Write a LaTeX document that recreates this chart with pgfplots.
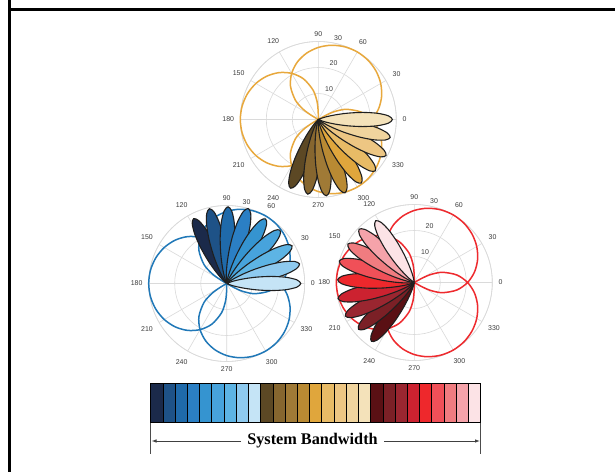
\documentclass[border=0pt]{standalone}
\usepackage{fontspec}
\setmainfont{Liberation Serif}
\newfontfamily\arialf{Liberation Sans}
\usepackage{pgfplots}
\pgfplotsset{compat=1.18}
\usepackage{pgfplotstable}
\usepgfplotslibrary{polar}
\usetikzlibrary{arrows.meta}

\definecolor{gridc}{HTML}{DADADA}
\definecolor{tickc}{HTML}{3C3C3C}
\definecolor{cO}{HTML}{E8A83C}
\definecolor{cB}{HTML}{2078B8}
\definecolor{cR}{HTML}{EE2A2E}
\definecolor{b1}{HTML}{1B2A4A}
\definecolor{b2}{HTML}{1E5287}
\definecolor{b3}{HTML}{1F6AAA}
\definecolor{b4}{HTML}{2B7FC4}
\definecolor{b5}{HTML}{3594D0}
\definecolor{b6}{HTML}{47A3DC}
\definecolor{b7}{HTML}{5DB4E4}
\definecolor{b8}{HTML}{8ECAEF}
\definecolor{b9}{HTML}{C5E4F6}
\definecolor{o1}{HTML}{5C4824}
\definecolor{o2}{HTML}{86662F}
\definecolor{o3}{HTML}{A07A36}
\definecolor{o4}{HTML}{B98A33}
\definecolor{o5}{HTML}{E0A63C}
\definecolor{o6}{HTML}{E8BB66}
\definecolor{o7}{HTML}{EDC683}
\definecolor{o8}{HTML}{F0D49E}
\definecolor{o9}{HTML}{F4E2BA}
\definecolor{r1}{HTML}{5A1014}
\definecolor{r2}{HTML}{7B2026}
\definecolor{r3}{HTML}{9A2630}
\definecolor{r4}{HTML}{CC2230}
\definecolor{r5}{HTML}{EE282C}
\definecolor{r6}{HTML}{F05058}
\definecolor{r7}{HTML}{F07C80}
\definecolor{r8}{HTML}{F5A3AA}
\definecolor{r9}{HTML}{FCE3E6}

\newcommand{\tickfont}{\arialf\fontsize{7}{8}\selectfont}

\pgfplotstableread{
a r
-30 0
-29 3.24
-26 6.94
-20 11.45
-10 16.63
0 20.49
10 23.53
20 25.91
30 27.72
40 28.99
50 29.75
60 30
70 29.75
80 28.99
90 27.72
100 25.91
110 23.53
120 20.49
130 16.63
140 11.45
146 6.94
149 3.24
150 0
}\circA
\pgfplotstableread{
a r
90 0
91 3.24
94 6.94
100 11.45
110 16.63
120 20.49
130 23.53
140 25.91
150 27.72
160 28.99
170 29.75
180 30
190 29.75
200 28.99
210 27.72
220 25.91
230 23.53
240 20.49
250 16.63
260 11.45
266 6.94
269 3.24
270 0
}\circB
\pgfplotstableread{
a r
210 0
211 3.24
214 6.94
220 11.45
230 16.63
240 20.49
250 23.53
260 25.91
270 27.72
280 28.99
290 29.75
300 30
310 29.75
320 28.99
330 27.72
340 25.91
350 23.53
360 20.49
370 16.63
380 11.45
386 6.94
389 3.24
390 0
}\circC

\pgfplotsset{
  mypolar/.style={
    anchor=center,
    scale only axis, width=156bp, height=156bp,
    xmin=0, xmax=360, ymin=0, ymax=30,
    xtick={0,30,...,330},
    xticklabels={0,30,60,90,120,150,180,210,240,270,300,330},
    ytick={10,20,30}, yticklabels={},
    grid=major,
    major grid style={draw=gridc, line width=0.6bp},
    axis line style={draw=gridc, line width=0.6bp},
    major tick length=0pt,
    xticklabel style={font=\tickfont, text=tickc, inner xsep=6bp, inner ysep=4.5bp},
    clip=false,
  },
  circ/.style={smooth, line width=1.5bp, no markers},
  lobe/.style={smooth, tension=0.5, draw=black!88, line width=1.1bp, no markers},
}
\tikzset{rlab/.style={font=\tickfont, text=tickc, anchor=south west, inner sep=2.2bp}}

\begin{document}
\begin{tikzpicture}
\useasboundingbox (0bp,0bp) rectangle (615bp,472bp);
\fill[white] (0bp,0bp) rectangle (615bp,472bp);
\draw[line width=3bp, black] (9.5bp,474bp) -- (9.5bp,462.5bp) -- (617bp,462.5bp);
\draw[line width=3bp, black] (9.5bp,-2bp) -- (9.5bp,463bp);

% ---------------- top (orange) ----------------
\begin{polaraxis}[mypolar, at={(318.3bp,352.5bp)}]
\addplot[circ, cO] table[x=a,y=r] {\circA};
\addplot[circ, cO] table[x=a,y=r] {\circB};
\addplot[circ, cO] table[x=a,y=r] {\circC};
\node[rlab] at (axis cs:80,10) {10};
\node[rlab] at (axis cs:80,20) {20};
\node[rlab] at (axis cs:80,30) {30};
\addplot[lobe, fill=o1] coordinates {(248,0) (227,1.82) (230,3.83) (233,7.12) (236,11.78) (239,17.37) (242,22.88) (245,26.98) (248,28.5) (251,26.98) (254,22.88) (257,17.37) (260,11.78) (263,7.12) (266,3.83) (269,1.82) (248,0)};
\addplot[lobe, fill=o2] coordinates {(262,0) (241,1.86) (244,3.90) (247,7.25) (250,11.98) (253,17.67) (256,23.28) (259,27.45) (262,29) (265,27.45) (268,23.28) (271,17.67) (274,11.98) (277,7.25) (280,3.90) (283,1.86) (262,0)};
\addplot[lobe, fill=o3] coordinates {(276,0) (255,1.89) (258,3.96) (261,7.37) (264,12.19) (267,17.97) (270,23.68) (273,27.92) (276,29.5) (279,27.92) (282,23.68) (285,17.97) (288,12.19) (291,7.37) (294,3.96) (297,1.89) (276,0)};
\addplot[lobe, fill=o4] coordinates {(290,0) (269,1.92) (272,4.03) (275,7.50) (278,12.40) (281,18.28) (284,24.08) (287,28.40) (290,30) (293,28.40) (296,24.08) (299,18.28) (302,12.40) (305,7.50) (308,4.03) (311,1.92) (290,0)};
\addplot[lobe, fill=o5] coordinates {(304,0) (283,1.89) (286,3.96) (289,7.37) (292,12.19) (295,17.97) (298,23.68) (301,27.92) (304,29.5) (307,27.92) (310,23.68) (313,17.97) (316,12.19) (319,7.37) (322,3.96) (325,1.89) (304,0)};
\addplot[lobe, fill=o6] coordinates {(318,0) (297,1.89) (300,3.96) (303,7.37) (306,12.19) (309,17.97) (312,23.68) (315,27.92) (318,29.5) (321,27.92) (324,23.68) (327,17.97) (330,12.19) (333,7.37) (336,3.96) (339,1.89) (318,0)};
\addplot[lobe, fill=o7] coordinates {(332,0) (311,1.89) (314,3.96) (317,7.37) (320,12.19) (323,17.97) (326,23.68) (329,27.92) (332,29.5) (335,27.92) (338,23.68) (341,17.97) (344,12.19) (347,7.37) (350,3.96) (353,1.89) (332,0)};
\addplot[lobe, fill=o8] coordinates {(346,0) (325,1.82) (328,3.83) (331,7.12) (334,11.78) (337,17.37) (340,22.88) (343,26.98) (346,28.5) (349,26.98) (352,22.88) (355,17.37) (358,11.78) (361,7.12) (364,3.83) (367,1.82) (346,0)};
\addplot[lobe, fill=o9] coordinates {(360,0) (339,1.82) (342,3.83) (345,7.12) (348,11.78) (351,17.37) (354,22.88) (357,26.98) (360,28.5) (363,26.98) (366,22.88) (369,17.37) (372,11.78) (375,7.12) (378,3.83) (381,1.82) (360,0)};
\end{polaraxis}

% ---------------- bottom left (blue) ----------------
\begin{polaraxis}[mypolar, at={(226.7bp,188.5bp)}]
\addplot[circ, cB] table[x=a,y=r] {\circA};
\addplot[circ, cB] table[x=a,y=r] {\circB};
\addplot[circ, cB] table[x=a,y=r] {\circC};
\node[rlab] at (axis cs:80,10) {10};
\node[rlab] at (axis cs:80,20) {20};
\node[rlab] at (axis cs:80,30) {30};
\addplot[lobe, fill=b1] coordinates {(117,0) (96,1.79) (99,3.76) (102,7.00) (105,11.57) (108,17.06) (111,22.48) (114,26.50) (117,28) (120,26.50) (123,22.48) (126,17.06) (129,11.57) (132,7.00) (135,3.76) (138,1.79) (117,0)};
\addplot[lobe, fill=b2] coordinates {(103,0) (82,1.89) (85,3.96) (88,7.37) (91,12.19) (94,17.97) (97,23.68) (100,27.92) (103,29.5) (106,27.92) (109,23.68) (112,17.97) (115,12.19) (118,7.37) (121,3.96) (124,1.89) (103,0)};
\addplot[lobe, fill=b3] coordinates {(89,0) (68,1.89) (71,3.96) (74,7.37) (77,12.19) (80,17.97) (83,23.68) (86,27.92) (89,29.5) (92,27.92) (95,23.68) (98,17.97) (101,12.19) (104,7.37) (107,3.96) (110,1.89) (89,0)};
\addplot[lobe, fill=b4] coordinates {(74,0) (53,1.92) (56,4.03) (59,7.50) (62,12.40) (65,18.28) (68,24.08) (71,28.40) (74,30) (77,28.40) (80,24.08) (83,18.28) (86,12.40) (89,7.50) (92,4.03) (95,1.92) (74,0)};
\addplot[lobe, fill=b5] coordinates {(59,0) (38,1.86) (41,3.90) (44,7.25) (47,11.98) (50,17.67) (53,23.28) (56,27.45) (59,29) (62,27.45) (65,23.28) (68,17.67) (71,11.98) (74,7.25) (77,3.90) (80,1.86) (59,0)};
\addplot[lobe, fill=b6] coordinates {(45,0) (24,1.86) (27,3.90) (30,7.25) (33,11.98) (36,17.67) (39,23.28) (42,27.45) (45,29) (48,27.45) (51,23.28) (54,17.67) (57,11.98) (60,7.25) (63,3.90) (66,1.86) (45,0)};
\addplot[lobe, fill=b7] coordinates {(30,0) (9,1.86) (12,3.90) (15,7.25) (18,11.98) (21,17.67) (24,23.28) (27,27.45) (30,29) (33,27.45) (36,23.28) (39,17.67) (42,11.98) (45,7.25) (48,3.90) (51,1.86) (30,0)};
\addplot[lobe, fill=b8] coordinates {(15,0) (-6,1.86) (-3,3.90) (0,7.25) (3,11.98) (6,17.67) (9,23.28) (12,27.45) (15,29) (18,27.45) (21,23.28) (24,17.67) (27,11.98) (30,7.25) (33,3.90) (36,1.86) (15,0)};
\addplot[lobe, fill=b9] coordinates {(0,0) (-21,1.82) (-18,3.83) (-15,7.12) (-12,11.78) (-9,17.37) (-6,22.88) (-3,26.98) (0,28.5) (3,26.98) (6,22.88) (9,17.37) (12,11.78) (15,7.12) (18,3.83) (21,1.82) (0,0)};
\end{polaraxis}

% ---------------- bottom right (red) ----------------
\begin{polaraxis}[mypolar, at={(414.3bp,189.5bp)}]
\addplot[circ, cR] table[x=a,y=r] {\circA};
\addplot[circ, cR] table[x=a,y=r] {\circB};
\addplot[circ, cR] table[x=a,y=r] {\circC};
\node[rlab] at (axis cs:80,10) {10};
\node[rlab] at (axis cs:80,20) {20};
\node[rlab] at (axis cs:80,30) {30};
\addplot[lobe, fill=r1] coordinates {(234,0) (213,1.79) (216,3.76) (219,7.00) (222,11.57) (225,17.06) (228,22.48) (231,26.50) (234,28) (237,26.50) (240,22.48) (243,17.06) (246,11.57) (249,7.00) (252,3.76) (255,1.79) (234,0)};
\addplot[lobe, fill=r2] coordinates {(220,0) (199,1.79) (202,3.76) (205,7.00) (208,11.57) (211,17.06) (214,22.48) (217,26.50) (220,28) (223,26.50) (226,22.48) (229,17.06) (232,11.57) (235,7.00) (238,3.76) (241,1.79) (220,0)};
\addplot[lobe, fill=r3] coordinates {(206,0) (185,1.89) (188,3.96) (191,7.37) (194,12.19) (197,17.97) (200,23.68) (203,27.92) (206,29.5) (209,27.92) (212,23.68) (215,17.97) (218,12.19) (221,7.37) (224,3.96) (227,1.89) (206,0)};
\addplot[lobe, fill=r4] coordinates {(192,0) (171,1.92) (174,4.03) (177,7.50) (180,12.40) (183,18.28) (186,24.08) (189,28.40) (192,30) (195,28.40) (198,24.08) (201,18.28) (204,12.40) (207,7.50) (210,4.03) (213,1.92) (192,0)};
\addplot[lobe, fill=r5] coordinates {(178,0) (157,1.89) (160,3.96) (163,7.37) (166,12.19) (169,17.97) (172,23.68) (175,27.92) (178,29.5) (181,27.92) (184,23.68) (187,17.97) (190,12.19) (193,7.37) (196,3.96) (199,1.89) (178,0)};
\addplot[lobe, fill=r6] coordinates {(164,0) (143,1.92) (146,4.03) (149,7.50) (152,12.40) (155,18.28) (158,24.08) (161,28.40) (164,30) (167,28.40) (170,24.08) (173,18.28) (176,12.40) (179,7.50) (182,4.03) (185,1.92) (164,0)};
\addplot[lobe, fill=r7] coordinates {(150,0) (129,1.89) (132,3.96) (135,7.37) (138,12.19) (141,17.97) (144,23.68) (147,27.92) (150,29.5) (153,27.92) (156,23.68) (159,17.97) (162,12.19) (165,7.37) (168,3.96) (171,1.89) (150,0)};
\addplot[lobe, fill=r8] coordinates {(136,0) (115,1.89) (118,3.96) (121,7.37) (124,12.19) (127,17.97) (130,23.68) (133,27.92) (136,29.5) (139,27.92) (142,23.68) (145,17.97) (148,12.19) (151,7.37) (154,3.96) (157,1.89) (136,0)};
\addplot[lobe, fill=r9] coordinates {(122,0) (101,1.79) (104,3.76) (107,7.00) (110,11.57) (113,17.06) (116,22.48) (119,26.50) (122,28) (125,26.50) (128,22.48) (131,17.06) (134,11.57) (137,7.00) (140,3.76) (143,1.79) (122,0)};
\end{polaraxis}

% ---------------- colour strip ----------------
\begin{axis}[at={(150.7bp,49.3bp)}, anchor=south west, scale only axis,
  width=330bp, height=39.4bp, xmin=0, xmax=27, ymin=0, ymax=1, hide axis, clip=false]
\addplot[fill=b1, draw=black, line width=0.8bp] coordinates {(0,0) (1,0) (1,1) (0,1)} -- cycle;
\addplot[fill=b2, draw=black, line width=0.8bp] coordinates {(1,0) (2,0) (2,1) (1,1)} -- cycle;
\addplot[fill=b3, draw=black, line width=0.8bp] coordinates {(2,0) (3,0) (3,1) (2,1)} -- cycle;
\addplot[fill=b4, draw=black, line width=0.8bp] coordinates {(3,0) (4,0) (4,1) (3,1)} -- cycle;
\addplot[fill=b5, draw=black, line width=0.8bp] coordinates {(4,0) (5,0) (5,1) (4,1)} -- cycle;
\addplot[fill=b6, draw=black, line width=0.8bp] coordinates {(5,0) (6,0) (6,1) (5,1)} -- cycle;
\addplot[fill=b7, draw=black, line width=0.8bp] coordinates {(6,0) (7,0) (7,1) (6,1)} -- cycle;
\addplot[fill=b8, draw=black, line width=0.8bp] coordinates {(7,0) (8,0) (8,1) (7,1)} -- cycle;
\addplot[fill=b9, draw=black, line width=0.8bp] coordinates {(8,0) (9,0) (9,1) (8,1)} -- cycle;
\addplot[fill=o1, draw=black, line width=0.8bp] coordinates {(9,0) (10,0) (10,1) (9,1)} -- cycle;
\addplot[fill=o2, draw=black, line width=0.8bp] coordinates {(10,0) (11,0) (11,1) (10,1)} -- cycle;
\addplot[fill=o3, draw=black, line width=0.8bp] coordinates {(11,0) (12,0) (12,1) (11,1)} -- cycle;
\addplot[fill=o4, draw=black, line width=0.8bp] coordinates {(12,0) (13,0) (13,1) (12,1)} -- cycle;
\addplot[fill=o5, draw=black, line width=0.8bp] coordinates {(13,0) (14,0) (14,1) (13,1)} -- cycle;
\addplot[fill=o6, draw=black, line width=0.8bp] coordinates {(14,0) (15,0) (15,1) (14,1)} -- cycle;
\addplot[fill=o7, draw=black, line width=0.8bp] coordinates {(15,0) (16,0) (16,1) (15,1)} -- cycle;
\addplot[fill=o8, draw=black, line width=0.8bp] coordinates {(16,0) (17,0) (17,1) (16,1)} -- cycle;
\addplot[fill=o9, draw=black, line width=0.8bp] coordinates {(17,0) (18,0) (18,1) (17,1)} -- cycle;
\addplot[fill=r1, draw=black, line width=0.8bp] coordinates {(18,0) (19,0) (19,1) (18,1)} -- cycle;
\addplot[fill=r2, draw=black, line width=0.8bp] coordinates {(19,0) (20,0) (20,1) (19,1)} -- cycle;
\addplot[fill=r3, draw=black, line width=0.8bp] coordinates {(20,0) (21,0) (21,1) (20,1)} -- cycle;
\addplot[fill=r4, draw=black, line width=0.8bp] coordinates {(21,0) (22,0) (22,1) (21,1)} -- cycle;
\addplot[fill=r5, draw=black, line width=0.8bp] coordinates {(22,0) (23,0) (23,1) (22,1)} -- cycle;
\addplot[fill=r6, draw=black, line width=0.8bp] coordinates {(23,0) (24,0) (24,1) (23,1)} -- cycle;
\addplot[fill=r7, draw=black, line width=0.8bp] coordinates {(24,0) (25,0) (25,1) (24,1)} -- cycle;
\addplot[fill=r8, draw=black, line width=0.8bp] coordinates {(25,0) (26,0) (26,1) (25,1)} -- cycle;
\addplot[fill=r9, draw=black, line width=0.8bp] coordinates {(26,0) (27,0) (27,1) (26,1)} -- cycle;
\end{axis}

% ---------------- bandwidth annotation ----------------
\draw[black!70, line width=0.7bp] (150.7bp,49.3bp) -- (150.7bp,18bp);
\draw[black!70, line width=0.7bp] (480.7bp,49.3bp) -- (480.7bp,18bp);
\node[font=\bfseries\fontsize{16.3}{18}\selectfont, anchor=base, inner sep=0pt] (bw) at (312.5bp,28bp) {System Bandwidth};
\draw[black!75, line width=0.8bp, -{Latex[length=5bp,width=3.5bp]}] (241bp,31bp) -- (151.5bp,31bp);
\draw[black!75, line width=0.8bp, -{Latex[length=5bp,width=3.5bp]}] (384bp,31bp) -- (480bp,31bp);
\end{tikzpicture}
\end{document}
